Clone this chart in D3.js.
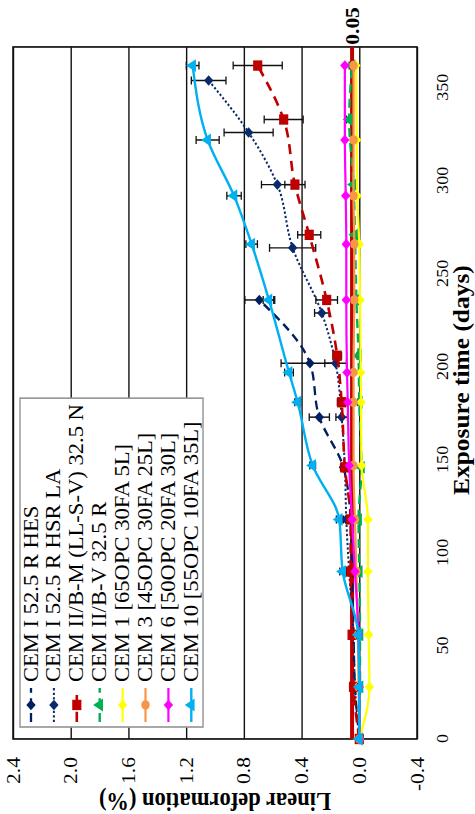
<!DOCTYPE html>
<html lang="en">
<head>
<meta charset="UTF-8">
<title>Linear deformation vs exposure time</title>
<script src="https://d3js.org/d3.v7.min.js"></script>
<style>
  body { margin: 0; background: #fff; }
  svg { display: block; }
  text { font-family: "Liberation Serif", "Times New Roman", serif; fill: #000; }
</style>
</head>
<body>
<svg id="chart" width="475" height="814"></svg>
<script>
// values (days, % deformation, +/- error)
const seriesNames = ["CEM I 52.5 R HES", "CEM I 52.5 R HSR LA", "CEM II/B-M (LL-S-V) 32.5 N", "CEM II/B-V 32.5 R",
  "CEM 1 [65OPC 30FA 5L]", "CEM 3 [45OPC 30FA 25L]", "CEM 6 [50OPC 20FA 30L]", "CEM 10 [55OPC 10FA 35L]"];

const hesDays = [0, 28, 56, 90, 118, 146, 173, 202, 236];
const hesVals = [0, 0.03, 0.04, 0.05, 0.06, 0.11, 0.277, 0.342, 0.693];
const hesErr  = [0, 0.01, 0.01, 0.01, 0.02, 0.02, 0.07, 0.2, 0.1];

const hsrDays = [0, 28, 56, 90, 118, 146, 173, 202, 229, 264, 298, 326, 354];
const hsrVals = [0, 0.03, 0.04, 0.07, 0.09, 0.10, 0.122, 0.164, 0.26, 0.462, 0.568, 0.767, 1.044];
const hsrErr  = [0, 0.01, 0.01, 0.02, 0.02, 0.02, 0.04, 0.075, 0.05, 0.16, 0.11, 0.17, 0.12];

const bmDays = [0, 28, 56, 90, 118, 146, 181, 206, 236, 271, 298, 333, 362];
const bmVals = [0, 0.04, 0.05, 0.06, 0.06, 0.10, 0.122, 0.153, 0.226, 0.347, 0.446, 0.524, 0.704];
const bmErr  = [0, 0.01, 0.01, 0.02, 0.02, 0.02, 0.03, 0.03, 0.075, 0.08, 0.07, 0.135, 0.17];

const bvDays = [0, 28, 56, 90, 118, 146, 181, 206, 236, 271, 298, 333, 362];
const bvVals = [0, -0.005, -0.005, 0.0, 0.005, -0.015, 0.0, 0.005, 0.02, 0.03, 0.04, 0.07, 0.05];
const bvErr  = [0, 0.005, 0.005, 0.01, 0.01, 0.01, 0.01, 0.01, 0.01, 0.01, 0.01, 0.02, 0.02];

const cemDays   = [0, 28, 56, 90, 118, 147, 181, 197, 236, 266, 292, 322, 362];
const cem1Vals  = [0, -0.07, -0.065, -0.06, -0.06, -0.016, -0.012, -0.01, -0.005, 0.0, 0.014, 0.018, 0.023];
const cem3Vals  = [0, 0.005, 0.01, 0.02, 0.03, 0.04, 0.04, 0.04, 0.035, 0.035, 0.04, 0.04, 0.04];
const cem6Vals  = [0, 0.0, 0.005, 0.03, 0.05, 0.07, 0.08, 0.085, 0.09, 0.09, 0.094, 0.10, 0.10];
const cem10Vals = [0, 0.0, 0.007, 0.115, 0.139, 0.323, 0.427, 0.487, 0.626, 0.746, 0.868, 1.051, 1.155];
const cem10Err  = [0, 0.01, 0.01, 0.02, 0.02, 0.02, 0.02, 0.03, 0.04, 0.04, 0.05, 0.08, 0.044];

const dayTicks = [0, 50, 100, 150, 200, 250, 300, 350];
const valTicks = [-0.4, 0.0, 0.4, 0.8, 1.2, 1.6, 2.0, 2.4];
const threshold = 0.05;

// chart is drawn upright in a "logical" frame, then turned 90deg ccw (and stretched a bit like the source image)
const stretch = 1.13;
const x0 = 66.4, x1 = 678.8, y0 = 13, y1 = 417;

const svg = d3.select("#chart");
const g = svg.append("g")
    .attr("transform", `translate(0,814) rotate(-90) scale(${stretch},1)`);

const x = d3.scaleLinear().domain([0, 372]).range([x0, x1]);
const y = d3.scaleLinear().domain([-0.4, 2.4]).range([y1, y0]);

// gridlines
const grid = g.append("g")
    .attr("transform", `translate(${x0},0)`)
    .call(d3.axisLeft(y).tickValues(valTicks).tickSize(-(x1 - x0)).tickFormat(""));
grid.select(".domain").remove();
grid.selectAll("line").attr("stroke", "#111").attr("stroke-width", 1.4);

g.append("rect")
    .attr("x", x0).attr("y", y0)
    .attr("width", x1 - x0).attr("height", y1 - y0)
    .attr("fill", "none").attr("stroke", "#111").attr("stroke-width", 1.5);

// value axis labels
const yAxis = g.append("g")
    .attr("transform", `translate(${x0},0)`)
    .call(d3.axisLeft(y).tickValues(valTicks).tickSize(0).tickPadding(16).tickFormat(d => d.toFixed(1)));
yAxis.select(".domain").remove();
yAxis.selectAll("text").style("font-size", "19px").style("font-family", "Liberation Serif").attr("fill", "#000");

// day axis labels
const xAxis = g.append("g")
    .attr("transform", `translate(0,${y1})`)
    .call(d3.axisBottom(x).tickValues(dayTicks).tickSize(0).tickPadding(20));
xAxis.select(".domain").remove();
xAxis.selectAll("text").style("font-size", "16px").style("font-family", "Liberation Serif").attr("fill", "#000");

g.append("text")
    .attr("x", 384).attr("y", 469)
    .attr("text-anchor", "middle")
    .style("font-size", "22.5px").style("font-weight", "bold")
    .text("Exposure time (days)");

g.append("text")
    .attr("transform", `translate(18.6,${(y0 + y1) / 2}) rotate(-90)`)
    .attr("text-anchor", "middle")
    .style("font-size", "22.5px").style("font-weight", "bold")
    .text("Linear deformation (%)");

// 0.05 limit line
g.append("line")
    .attr("x1", x(0)).attr("x2", x1)
    .attr("y1", y(threshold)).attr("y2", y(threshold))
    .attr("stroke", "#c00000").attr("stroke-width", 4);
g.append("text")
    .attr("x", x1 + 2).attr("y", y(threshold) + 6.5)
    .style("font-size", "19px").style("font-weight", "bold")
    .attr("fill", "#d00000")
    .text("0.05");

// series
const mk = (days, vals, err) => days.map((d, i) => ({ day: d, val: vals[i], err: err ? err[i] : 0 }));
const series = [
    { name: seriesNames[0], pts: mk(hesDays, hesVals, hesErr), color: "#002060", dash: "8,5", w: 2.3, sym: "diamond" },
    { name: seriesNames[1], pts: mk(hsrDays, hsrVals, hsrErr), color: "#0a2a6e", dash: "2,2", w: 2, sym: "diamond" },
    { name: seriesNames[2], pts: mk(bmDays, bmVals, bmErr), color: "#c00000", dash: "9,6", w: 2.6, sym: "square" },
    { name: seriesNames[3], pts: mk(bvDays, bvVals, bvErr), color: "#00b050", dash: "8,5", w: 2.4, sym: "triangle" },
    { name: seriesNames[4], pts: mk(cemDays, cem1Vals), color: "#ffff00", dash: null, w: 2.2, sym: "diamond" },
    { name: seriesNames[5], pts: mk(cemDays, cem3Vals), color: "#f79646", dash: null, w: 2.2, sym: "circle" },
    { name: seriesNames[6], pts: mk(cemDays, cem6Vals), color: "#ff00ff", dash: null, w: 2.2, sym: "diamond" },
    { name: seriesNames[7], pts: mk(cemDays, cem10Vals, cem10Err), color: "#00b0f0", dash: null, w: 2.4, sym: "triangle" }
];

const symbolPath = {
    diamond: d3.symbol(d3.symbolSquare, 44)(),
    square: d3.symbol(d3.symbolSquare, 84)(),
    triangle: d3.symbol(d3.symbolTriangle, 56)(),
    circle: d3.symbol(d3.symbolCircle, 56)()
};
const symRot = s => s === "diamond" ? " rotate(45)" : "";

const line = d3.line().x(d => x(d.day)).y(d => y(d.val)).curve(d3.curveMonotoneX);

series.forEach(s => {
    const sg = g.append("g");
    sg.append("path")
        .attr("d", line(s.pts))
        .attr("fill", "none")
        .attr("stroke", s.color)
        .attr("stroke-width", s.w)
        .attr("stroke-dasharray", s.dash);

    // error bars
    const eb = sg.selectAll(".err").data(s.pts.filter(p => p.err > 0)).enter().append("g")
        .attr("stroke", "#111").attr("stroke-width", 1.3);
    eb.append("line")
        .attr("x1", d => x(d.day)).attr("x2", d => x(d.day))
        .attr("y1", d => y(d.val - d.err)).attr("y2", d => y(d.val + d.err));
    [-1, 1].forEach(k => {
        eb.append("line")
            .attr("x1", d => x(d.day) - 3.5).attr("x2", d => x(d.day) + 3.5)
            .attr("y1", d => y(d.val + k * d.err)).attr("y2", d => y(d.val + k * d.err));
    });

    sg.selectAll(".pt").data(s.pts).enter().append("path")
        .attr("d", symbolPath[s.sym])
        .attr("transform", d => `translate(${x(d.day)},${y(d.val)})${symRot(s.sym)}`)
        .attr("fill", s.color);
});

// legend
const legend = g.append("g");
const lgX = 77, lgW = 291, textX = 116.8;
legend.append("rect")
    .attr("x", lgX).attr("y", 20).attr("width", lgW).attr("height", 183)
    .attr("fill", "#fff").attr("stroke", "#999").attr("stroke-width", 1.5);
const rowY = d3.scalePoint().domain(seriesNames).range([31, 191.3]);
series.forEach(s => {
    const ry = rowY(s.name);
    legend.append("line")
        .attr("x1", 81.4).attr("x2", 111.5).attr("y1", ry).attr("y2", ry)
        .attr("stroke", s.color).attr("stroke-width", s.w)
        .attr("stroke-dasharray", s.dash);
    legend.append("path")
        .attr("d", symbolPath[s.sym])
        .attr("transform", `translate(96.5,${ry})${symRot(s.sym)}`)
        .attr("fill", s.color);
    legend.append("text")
        .attr("class", "lg-text")
        .attr("x", textX).attr("y", ry).attr("dy", "0.33em")
        .style("font-size", "20px")
        .text(s.name);
});

// keep the longest entry inside the box, as in the source
const room = lgX + lgW - textX - 3;
const longest = d3.max(legend.selectAll(".lg-text").nodes(), n => n.getComputedTextLength());
if (longest > room) {
    legend.selectAll(".lg-text").style("font-size", (20 * room / longest).toFixed(2) + "px");
}
</script>
</body>
</html>
